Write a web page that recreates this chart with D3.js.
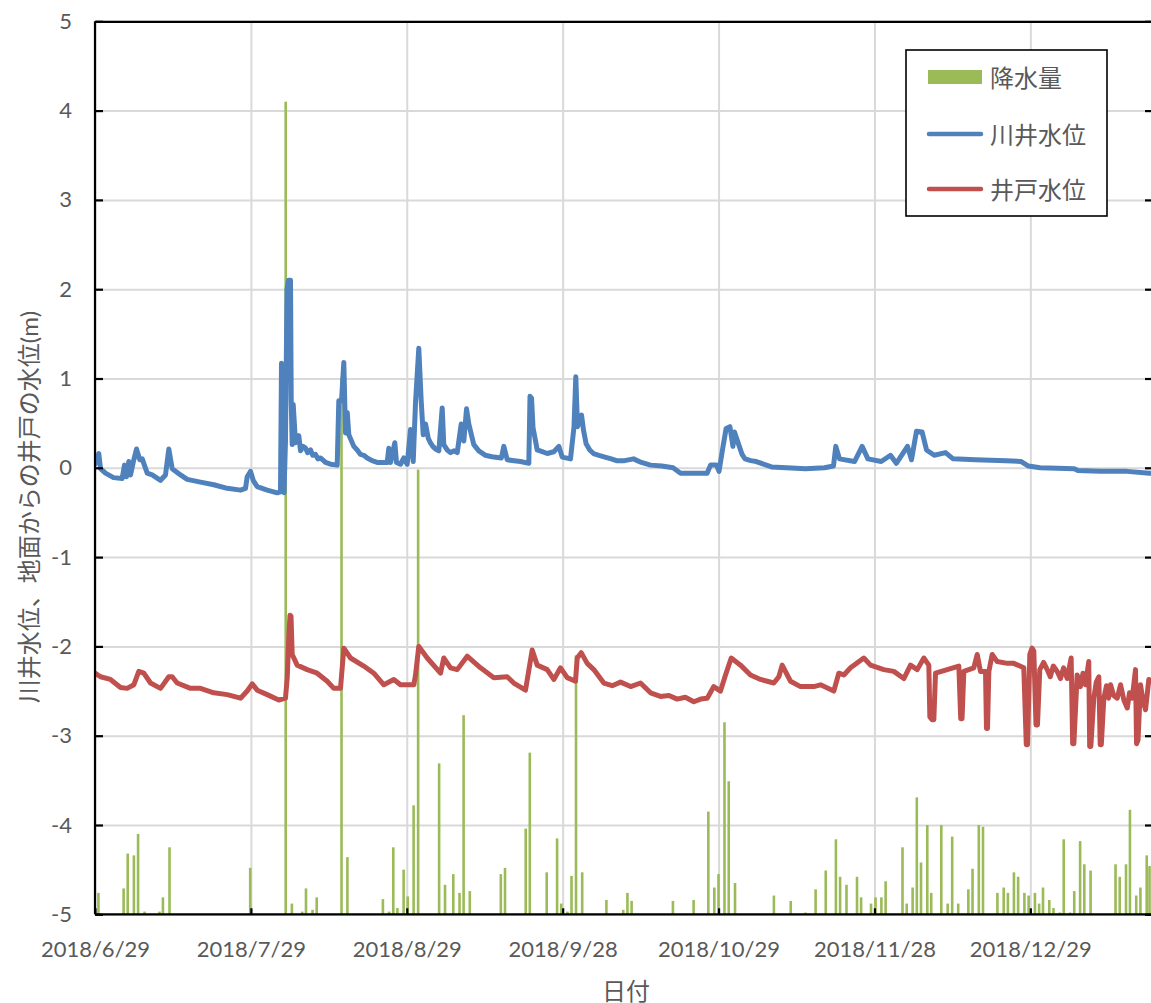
<!DOCTYPE html>
<html><head><meta charset="utf-8">
<script src="https://cdn.jsdelivr.net/npm/d3@7"></script>
<style>
body{margin:0;background:#fff;}
svg text{font-family:"Lato","Noto Sans CJK JP",sans-serif;fill:#595959;}
</style></head><body>
<svg id="chart" width="1151" height="1003"></svg>
<script>
// ---------- data ----------
const startDate = "2018/6/29";
const endDate = "2019/1/22";
const xTickDates = ["2018/6/29 00","2018/7/29 12","2018/8/29 00","2018/9/28 12","2018/10/29 00","2018/11/28 12","2018/12/29 00"];
const yTicks = [5,4,3,2,1,0,-1,-2,-3,-4,-5];
const rainAxisDomain = [0,100];
const seriesNames = ["降水量","川井水位","井戸水位"];
const yAxisTitle = "川井水位、地面からの井戸の水位(m)";
const xAxisTitle = "日付";

// rainfall: [days since startDate, mm]
const rain = [[0.67,2.4],[5.60,2.9],[6.40,6.8],[7.61,6.6],[8.43,9.0],[9.70,0.3],[12.62,0.3],[13.29,1.9],[14.58,7.5],[30.37,5.2],
[37.31,91],[38.52,1.2],[40.54,0.3],[41.28,2.9],[42.56,0.5],[43.38,1.9],[48.23,60.1],[49.38,6.4],[56.33,1.7],[57.54,0.3],
[58.36,7.5],[59.17,0.7],[60.38,5.0],[61.18,2.0],[62.34,12.2],[63.22,49.8],[67.33,16.9],[68.48,3.3],[70.10,4.5],[71.32,2.4],
[72.12,22.3],[73.33,2.6],[79.40,4.5],[80.22,5.2],[84.27,9.6],[85.07,18.1],[88.38,4.7],[90.41,8.5],[91.22,1.2],[92.43,0.3],
[93.23,4.3],[94.11,29],[95.32,4.7],[100.06,1.6],[103.35,0.5],[104.17,2.4],[104.99,1.5],[113.07,1.5],[117.12,1.6],[120.00,11.5],
[121.17,3.0],[121.99,4.5],[123.16,21.5],[123.99,14.9],[125.22,3.5],[132.83,2.1],[136.12,1.5],[139.00,0.2],[140.99,2.8],[142.97,4.9],
[144.96,8.4],[145.78,4.2],[147.03,3.3],[149.09,4.2],[149.89,1.9],[151.83,1.2],[152.71,1.9],[153.86,1.9],[154.69,3.7],[157.99,7.5],
[158.81,1.2],[159.97,3.0],[160.79,13.1],[161.61,5.8],[162.84,10.0],[163.61,2.4],[165.58,10.0],[166.83,1.2],[167.71,8.7],[168.89,1.2],
[170.87,2.8],[171.69,5.1],[172.92,10.0],[173.74,9.8],[176.56,2.4],[177.79,3.0],[178.61,2.4],[179.79,4.7],[180.61,4.2],[181.84,2.4],
[182.67,2.1],[183.90,2.4],[184.72,1.2],[185.48,3.0],[186.71,1.6],[187.53,0.7],[188.77,0.2],[189.53,8.4],[190.77,0.2],[191.59,2.6],
[192.74,8.2],[193.56,5.6],[194.79,4.9],[199.67,5.6],[200.49,4.2],[201.72,5.6],[202.49,11.7],[203.72,2.1],[204.54,3.0],[205.77,6.6],
[206.32,5.4]];

// river well level (m): [days since startDate, level]
const riverLevel = [[0,0.04],[0.74,0.16],[1.08,-0.01],[2.05,-0.06],[3.62,-0.11],[5.32,-0.12],[5.77,0.03],[6.16,-0.10],[6.61,0.07],[6.95,-0.08],
[7.59,0.09],[8.12,0.21],[8.77,0.09],[9.24,0.10],[10.21,-0.06],[11.19,-0.08],[12.82,-0.14],[13.79,-0.08],[14.44,0.21],[15.10,-0.01],
[16.73,-0.08],[18.04,-0.13],[20.64,-0.16],[23.24,-0.19],[25.87,-0.23],[28.47,-0.25],[29.45,-0.23],[29.78,-0.10],[30.43,-0.04],[30.95,-0.14],
[31.74,-0.21],[33.69,-0.25],[35.65,-0.28],[36.29,-0.27],[36.49,1.17],[36.78,1.10],[36.98,-0.28],[37.27,0.30],[37.57,2.00],[37.86,2.10],
[38.25,2.10],[38.39,0.75],[38.58,0.26],[38.78,0.71],[39.23,0.28],[39.87,0.36],[40.21,0.19],[40.7,0.24],[41.19,0.22],[41.6,0.17],[42.17,0.20],[42.6,0.14],[43.14,0.15],[43.6,0.10],
[44.12,0.11],[45.1,0.06],[46.08,0.04],[47.39,0.03],[47.70,0.75],[48.23,0.75],[48.68,1.18],[49.01,0.39],[49.35,0.62],[49.66,0.37],[50.64,0.24],
[51.3,0.20],[51.95,0.15],[52.6,0.14],[53.26,0.11],[54.2,0.08],[55.21,0.06],[57.17,0.06],[57.48,0.22],[57.82,0.06],[58.66,0.28],[58.99,0.06],[59.77,0.04],[60.42,0.11],
[61.08,0.04],[61.73,0.43],[62.26,0.07],[62.71,0.73],[63.35,1.34],[63.82,0.75],[64.22,0.37],[64.67,0.49],[65.2,0.33],[65.64,0.28],[66.1,0.24],[66.62,0.21],
[67.27,0.19],[67.93,0.67],[68.24,0.26],[68.9,0.20],[69.56,0.17],[70.2,0.19],[70.87,0.17],[71.65,0.49],[72.16,0.30],[72.69,0.66],[73.14,0.49],[74.11,0.26],
[75.09,0.19],[76.40,0.14],[77.2,0.13],[78.03,0.12],[79.5,0.11],[79.99,0.24],[80.65,0.09],[82.0,0.08],[83.25,0.07],[84.88,0.05],[85.11,0.80],[85.41,0.78],[85.70,0.45],
[86.52,0.20],[87.5,0.18],[88.48,0.16],[89.77,0.18],[90.75,0.24],[91.41,0.12],[93.03,0.10],[93.72,0.46],[94.07,1.02],[94.40,0.46],[95.19,0.59],
[95.58,0.42],[96.09,0.27],[96.8,0.20],[97.53,0.16],[98.6,0.14],[99.78,0.12],[101.0,0.10],[102.03,0.08],[103.6,0.08],[105.36,0.10],[106.9,0.06],[108.69,0.03],[110.9,0.02],[113.11,0.00],[114.56,-0.06],[119.76,-0.06],
[120.43,0.03],[121.60,0.03],[122.09,-0.04],[122.88,0.24],[123.48,0.44],[124.22,0.46],[124.81,0.24],[125.12,0.40],[126.06,0.24],[126.6,0.15],[127.18,0.10],
[128.3,0.08],[129.39,0.07],[132.36,0.01],[135.29,0.00],[139.01,-0.01],[142.73,0.00],[144.49,0.02],[144.94,0.24],[145.67,0.10],[148.60,0.07],[150.09,0.24],
[151.22,0.10],[153.83,0.07],[155.64,0.14],[156.78,0.05],[158.97,0.24],[159.75,0.09],[160.73,0.41],[161.83,0.40],[162.69,0.20],[164.20,0.14],
[166.41,0.17],[167.89,0.10],[172.28,0.09],[178.26,0.08],[181.22,0.07],[182.64,0.02],[184.91,0.00],[191.59,-0.01],[192.31,-0.03],[196.73,-0.04],
[201.94,-0.04],[206.32,-0.06],[207,-0.06]];

// well water level below ground (m): [days since startDate, level]
const wellLevel = [[0,-2.30],[1.08,-2.34],[3.03,-2.37],[4.99,-2.46],[6.30,-2.47],[7.59,-2.43],[8.57,-2.28],[9.55,-2.30],[10.86,-2.41],[12.82,-2.47],
[14.44,-2.34],[15.10,-2.34],[16.08,-2.41],[18.69,-2.47],[20.64,-2.47],[23.24,-2.52],[25.87,-2.54],[28.47,-2.58],[29.78,-2.50],[30.76,-2.42],
[31.74,-2.49],[33.69,-2.54],[35.96,-2.60],[37.27,-2.58],[37.61,-2.35],[37.92,-1.90],[38.15,-1.65],[38.35,-1.66],[38.58,-2.09],[39.56,-2.21],
[41.51,-2.26],[43.47,-2.30],[45.43,-2.39],[46.72,-2.47],[48.03,-2.47],[48.68,-2.02],[49.99,-2.13],[52.59,-2.22],[54.55,-2.30],[56.51,-2.43],
[58.46,-2.37],[59.77,-2.43],[62.38,-2.43],[62.71,-2.32],[63.35,-2.00],[65.00,-2.13],[67.60,-2.30],[68.24,-2.13],[69.56,-2.24],[70.87,-2.26],
[72.82,-2.11],[75.43,-2.24],[78.03,-2.35],[80.65,-2.34],[81.94,-2.41],[84.23,-2.49],[85.54,-2.04],[86.52,-2.21],[88.48,-2.26],[89.77,-2.37],
[91.08,-2.24],[92.39,-2.35],[94.01,-2.39],[94.35,-2.13],[95.13,-2.07],[96.30,-2.19],[97.59,-2.26],[99.55,-2.41],[101.2,-2.44],[102.82,-2.40],[104.8,-2.45],[106.73,-2.41],
[108.69,-2.52],[110.65,-2.56],[112.3,-2.55],[113.91,-2.59],[115.5,-2.57],[117.16,-2.62],[118.5,-2.59],[119.78,-2.58],[121.07,-2.45],[122.38,-2.50],[123.36,-2.32],[124.48,-2.13],[126.30,-2.21],
[128.25,-2.32],[130.21,-2.37],[132.81,-2.41],[133.79,-2.34],[134.45,-2.21],[136.08,-2.39],[138.03,-2.45],[140.64,-2.45],[141.95,-2.43],[144.55,-2.50],
[145.53,-2.30],[146.51,-2.32],[147.82,-2.24],[150.42,-2.13],[151.73,-2.21],[154.33,-2.26],[156.29,-2.28],[158.25,-2.36],[159.56,-2.21],[160.87,-2.26],
[162.16,-2.13],[163.14,-2.21],[163.34,-2.79],[163.77,-2.82],[164.12,-2.82],[164.45,-2.30],[166.74,-2.26],[169.01,-2.22],[169.38,-2.81],[169.64,-2.81],
[169.99,-2.28],[171.94,-2.24],[172.61,-2.09],[173.25,-2.28],[174.23,-2.28],[174.42,-2.92],[174.62,-2.92],[174.88,-2.28],[175.54,-2.09],[176.52,-2.17],
[178.48,-2.19],[179.77,-2.19],[181.72,-2.24],[182.21,-3.10],[182.45,-3.10],[182.90,-2.09],[183.33,-2.02],[183.68,-2.05],[184.11,-2.88],[184.40,-2.88],
[184.85,-2.26],[185.6,-2.18],[186.30,-2.26],[186.9,-2.34],[187.5,-2.22],[188.25,-2.28],[188.9,-2.36],[189.5,-2.24],[190.21,-2.36],[190.99,-2.13],[191.28,-3.09],[191.52,-3.09],[192.16,-2.32],[192.8,-2.45],[193.3,-2.30],[193.79,-2.43],[194.43,-2.17],
[194.61,-3.12],[194.84,-3.12],[195.42,-2.58],[195.9,-2.40],[196.40,-2.34],[196.67,-3.10],[196.89,-3.10],[197.38,-2.58],[197.9,-2.44],[198.3,-2.58],[198.69,-2.43],[199.3,-2.55],[200.00,-2.58],[200.65,-2.43],
[201.3,-2.60],[201.96,-2.69],[202.4,-2.52],[202.93,-2.58],[203.58,-2.26],[203.78,-3.09],[204.07,-3.05],[204.56,-2.43],[205.0,-2.60],[205.54,-2.71],[206.18,-2.37],[207,-2.40]];

const colors = {rain:"#9bbb59", river:"#4f81bd", well:"#c0504d", grid:"#d9d9d9", axis:"#000000"};

// ---------- chart ----------
const M = {left:95, right:1153, top:21.3, bottom:914.3};
const parseDay = d3.timeParse("%Y/%m/%d");
const parseHour = d3.timeParse("%Y/%m/%d %H");
const t0 = parseDay(startDate), t1 = parseDay(endDate);
const dayToDate = d => new Date(t0.getTime() + d*864e5);
const tickDates = xTickDates.map(parseHour);

const x = d3.scaleTime().domain([t0,t1]).range([M.left,M.right]);
const y = d3.scaleLinear().domain([-5,5]).range([M.bottom,M.top]);
const yRain = d3.scaleLinear().domain(rainAxisDomain).range([M.bottom,M.top]);

const svg = d3.select("#chart");
svg.append("rect").attr("width",1151).attr("height",1003).attr("fill","#fff");
svg.append("defs").append("clipPath").attr("id","plot").append("rect")
  .attr("x",M.left).attr("y",M.top-10).attr("width",M.right-M.left).attr("height",M.bottom-M.top+10);

// gridlines
const gy = svg.append("g").attr("transform",`translate(${M.left},0)`)
  .call(d3.axisLeft(y).tickValues(yTicks).tickSize(-(M.right-M.left)).tickFormat(""));
gy.select(".domain").remove();
gy.selectAll("line").attr("stroke",colors.grid).attr("stroke-width",2);
const gx = svg.append("g").attr("transform",`translate(0,${M.bottom})`)
  .call(d3.axisBottom(x).tickValues(tickDates).tickSize(-(M.bottom-M.top)).tickFormat(""));
gx.select(".domain").remove();
gx.selectAll("line").attr("stroke",colors.grid).attr("stroke-width",2);

// rain bars
svg.append("g").attr("clip-path","url(#plot)").selectAll("rect").data(rain).join("rect")
  .attr("x",d=>x(dayToDate(d[0]))-1.3).attr("width",2.6)
  .attr("y",d=>yRain(d[1])).attr("height",d=>M.bottom-yRain(d[1]))
  .attr("fill",colors.rain);

// lines
const line = d3.line().x(d=>x(dayToDate(d[0]))).y(d=>y(d[1]));
const lg = svg.append("g").attr("clip-path","url(#plot)");
lg.append("path").datum(riverLevel).attr("d",line).attr("fill","none")
  .attr("stroke",colors.river).attr("stroke-width",5).attr("stroke-linejoin","round").attr("stroke-linecap","round");
lg.append("path").datum(wellLevel).attr("d",line).attr("fill","none")
  .attr("stroke",colors.well).attr("stroke-width",5).attr("stroke-linejoin","round").attr("stroke-linecap","round");

// axes
const axL = svg.append("g").attr("transform",`translate(${M.left},0)`)
  .call(d3.axisLeft(y).tickValues(yTicks).tickSize(-8).tickPadding(23).tickFormat(d=>String(d)));
const axB = svg.append("g").attr("transform",`translate(0,${M.bottom})`)
  .call(d3.axisBottom(x).tickValues(tickDates).tickSize(-6).tickPadding(27).tickFormat(d3.timeFormat("%Y/%-m/%-d")));
const axT = svg.append("g").attr("transform",`translate(0,${M.top})`)
  .call(d3.axisTop(x).tickValues([]).tickSizeOuter(0));
const axR = svg.append("g").attr("transform",`translate(${M.right},0)`)
  .call(d3.axisRight(yRain).ticks(10).tickSize(-8).tickSizeOuter(0).tickFormat(""));
[axL,axB,axT,axR].forEach(g=>{
  g.select(".domain").attr("stroke",colors.axis).attr("stroke-width",2.2);
  g.selectAll(".tick line").attr("stroke",colors.axis).attr("stroke-width",2.2);
  g.selectAll("text").attr("font-size",22).attr("fill","#595959").style("font-family","Lato, 'Noto Sans CJK JP', sans-serif");
});
axL.select(".domain").attr("d",`M0,${M.top}V${M.bottom}`);
axB.select(".domain").attr("d",`M${M.left},0H${M.right}`);

// axis titles
svg.append("text").attr("transform",`translate(28,507) rotate(-90)`)
  .attr("text-anchor","middle").attr("dominant-baseline","central").attr("font-size",24).text(yAxisTitle);
svg.append("text").attr("x",626).attr("y",990).attr("text-anchor","middle")
  .attr("dominant-baseline","central").attr("font-size",24).text(xAxisTitle);

// legend
const leg = svg.append("g");
leg.append("rect").attr("x",906).attr("y",50).attr("width",201).attr("height",166)
  .attr("fill","#fff").attr("stroke","#000").attr("stroke-width",1.6);
const legY = [77, 134, 189];
const legColors = [colors.rain, colors.river, colors.well];
seriesNames.forEach((name,i)=>{
  if(i===0){
    leg.append("rect").attr("x",928).attr("y",legY[i]-7).attr("width",54).attr("height",14).attr("fill",legColors[i]);
  } else {
    leg.append("line").attr("x1",929).attr("x2",981).attr("y1",legY[i]).attr("y2",legY[i])
      .attr("stroke",legColors[i]).attr("stroke-width",4.5).attr("stroke-linecap","round");
  }
  leg.append("text").attr("x",990).attr("y",legY[i]).attr("dominant-baseline","central")
    .attr("font-size",24).text(name);
});
</script>
</body></html>
